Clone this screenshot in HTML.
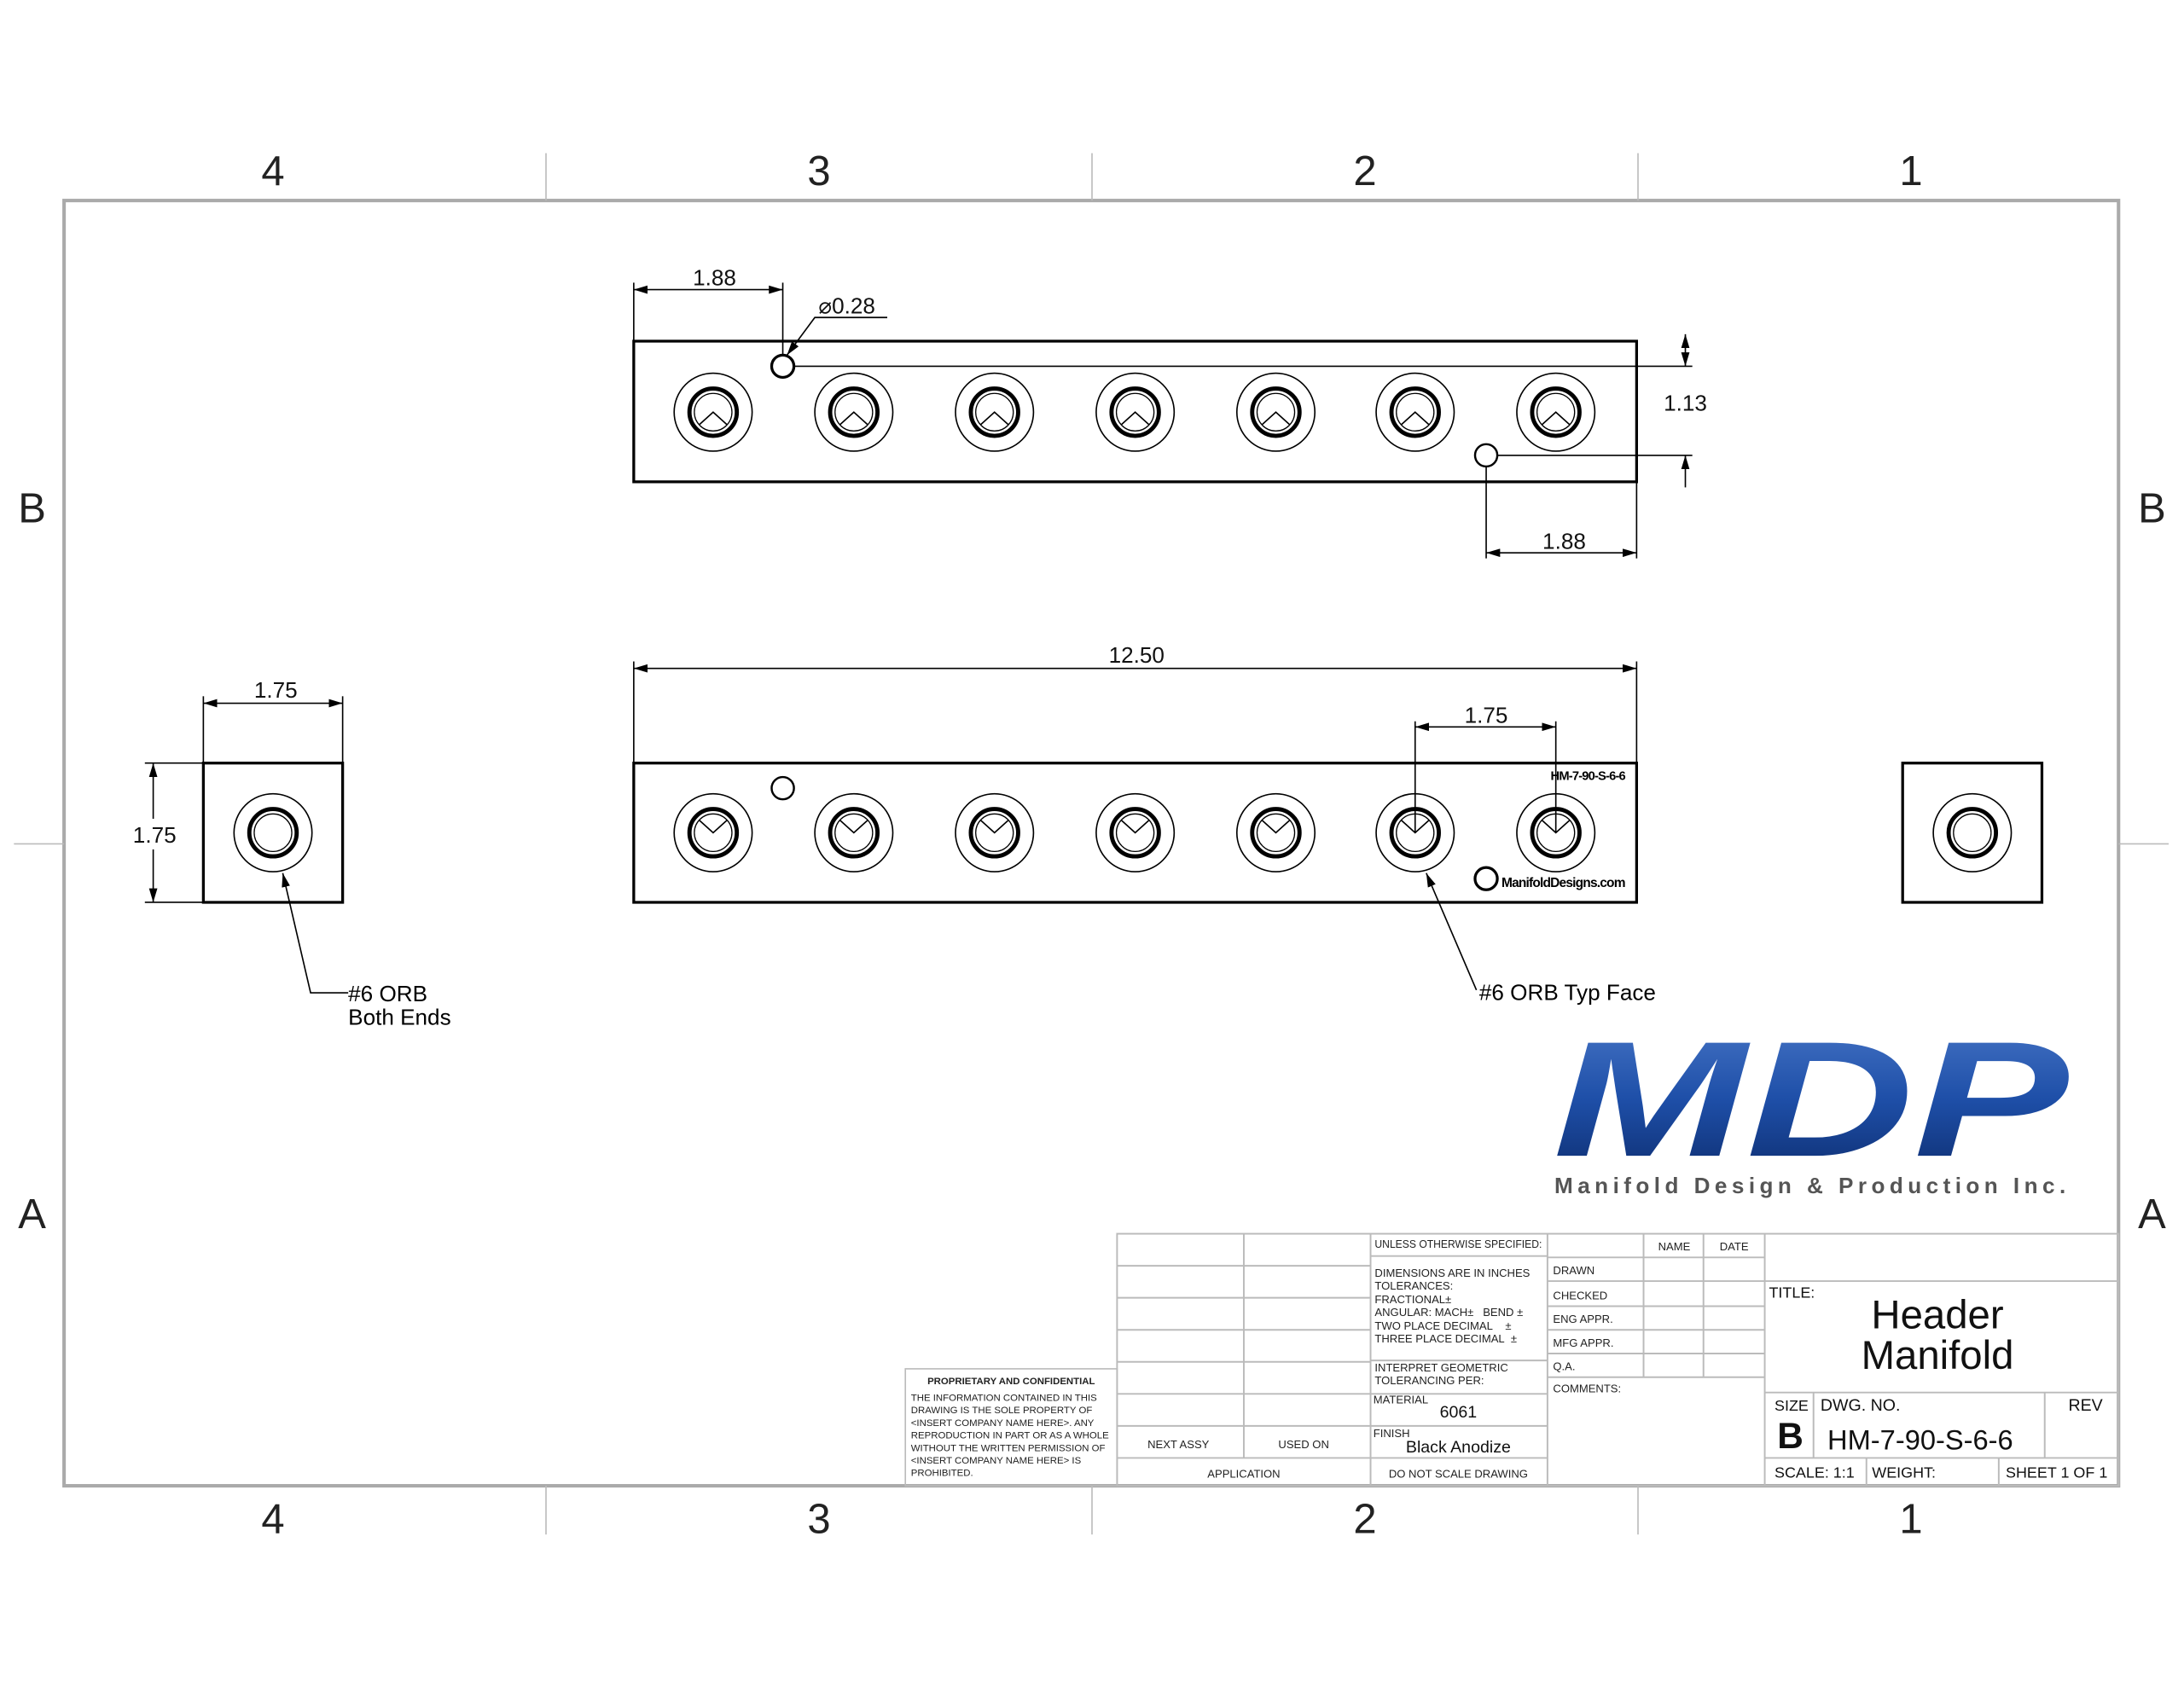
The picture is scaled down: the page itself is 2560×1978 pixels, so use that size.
<!DOCTYPE html>
<html><head><meta charset="utf-8"><style>html,body{margin:0;padding:0;background:#fff}svg{display:block}</style></head><body>
<svg width="2560" height="1978" viewBox="0 0 1568 1211.5" preserveAspectRatio="none" xmlns="http://www.w3.org/2000/svg" font-family="Liberation Sans, sans-serif">
<defs>
<linearGradient id="g" x1="0" y1="0" x2="0" y2="1"><stop offset="0" stop-color="#4a78c8"/><stop offset="0.5" stop-color="#1e4fa8"/><stop offset="1" stop-color="#0c2a6a"/></linearGradient>
<marker id="a" viewBox="0 0 10 6" refX="10" refY="3" markerWidth="10" markerHeight="6" orient="auto-start-reverse" markerUnits="userSpaceOnUse"><path d="M0,0L10,3L0,6z" fill="#000"/></marker>
<g id="hu"><circle r="28" fill="none" stroke="#000" stroke-width="1"/><circle r="17" fill="none" stroke="#000" stroke-width="3"/><circle r="13.5" fill="none" stroke="#000" stroke-width="0.8"/><path d="M-10,9L0,0L10,9" fill="none" stroke="#000" stroke-width="1"/></g>
<g id="hd"><circle r="28" fill="none" stroke="#000" stroke-width="1"/><circle r="17" fill="none" stroke="#000" stroke-width="3"/><circle r="13.5" fill="none" stroke="#000" stroke-width="0.8"/><path d="M-10,-9L0,0L10,-9" fill="none" stroke="#000" stroke-width="1"/></g>
<g id="he"><circle r="28" fill="none" stroke="#000" stroke-width="1"/><circle r="17" fill="none" stroke="#000" stroke-width="3"/><circle r="13.5" fill="none" stroke="#000" stroke-width="0.8"/></g>
</defs>
<rect x="46" y="144" width="1475" height="923" fill="none" stroke="#aaa" stroke-width="2.5"/>
<g stroke="#bbb" stroke-width="1">
<line x1="392" y1="110" x2="392" y2="144"/><line x1="784" y1="110" x2="784" y2="144"/><line x1="1176" y1="110" x2="1176" y2="144"/>
<line x1="392" y1="1067" x2="392" y2="1102"/><line x1="784" y1="1067" x2="784" y2="1102"/><line x1="1176" y1="1067" x2="1176" y2="1102"/>
<line x1="10" y1="606" x2="46" y2="606"/><line x1="1521" y1="606" x2="1557" y2="606"/>
</g>
<g font-size="30" text-anchor="middle" fill="#222">
<text x="196" y="133">4</text><text x="588" y="133">3</text><text x="980" y="133">2</text><text x="1372" y="133">1</text>
<text x="196" y="1101">4</text><text x="588" y="1101">3</text><text x="980" y="1101">2</text><text x="1372" y="1101">1</text>
<text x="23" y="375">B</text><text x="1545" y="375">B</text><text x="23" y="882">A</text><text x="1545" y="882">A</text>
</g>
<rect x="455" y="245" width="720" height="101" fill="none" stroke="#000" stroke-width="2"/>
<g><use href="#hu" x="512" y="296"/><use href="#hu" x="613" y="296"/><use href="#hu" x="714" y="296"/><use href="#hu" x="815" y="296"/><use href="#hu" x="916" y="296"/><use href="#hu" x="1016" y="296"/><use href="#hu" x="1117" y="296"/></g>
<circle cx="562" cy="263" r="8" fill="none" stroke="#000" stroke-width="2"/>
<circle cx="1067" cy="327" r="8" fill="none" stroke="#000" stroke-width="1.5"/>
<g stroke="#000" stroke-width="1" fill="none">
<line x1="455" y1="245" x2="455" y2="203"/><line x1="562" y1="255" x2="562" y2="203"/>
<line x1="455" y1="208" x2="562" y2="208" marker-start="url(#a)" marker-end="url(#a)"/>
<polyline points="637,228 585,228 565,255" marker-end="url(#a)"/>
<line x1="570" y1="263" x2="1215" y2="263"/><line x1="1075" y1="327" x2="1215" y2="327"/>
<line x1="1210" y1="240" x2="1210" y2="263" marker-start="url(#a)" marker-end="url(#a)"/>
<line x1="1210" y1="350" x2="1210" y2="327" marker-end="url(#a)"/>
<line x1="1067" y1="335" x2="1067" y2="401"/><line x1="1175" y1="346" x2="1175" y2="401"/>
<line x1="1067" y1="397" x2="1175" y2="397" marker-start="url(#a)" marker-end="url(#a)"/>
</g>
<rect x="95" y="589" width="32" height="20" fill="#fff"/>
<g font-size="16" fill="#111" text-anchor="middle">
<text x="513" y="205">1.88</text><text x="608" y="225">⌀0.28</text><text x="1210" y="295">1.13</text><text x="1123" y="394">1.88</text>
<text x="816" y="476">12.50</text><text x="1067" y="519">1.75</text><text x="198" y="501">1.75</text><text x="111" y="605">1.75</text>
</g>
<rect x="455" y="548" width="720" height="100" fill="none" stroke="#000" stroke-width="2"/>
<g><use href="#hd" x="512" y="598"/><use href="#hd" x="613" y="598"/><use href="#hd" x="714" y="598"/><use href="#hd" x="815" y="598"/><use href="#hd" x="916" y="598"/><use href="#hd" x="1016" y="598"/><use href="#hd" x="1117" y="598"/></g>
<circle cx="562" cy="566" r="8" fill="none" stroke="#000" stroke-width="1.5"/>
<circle cx="1067" cy="631" r="8" fill="none" stroke="#000" stroke-width="2"/>
<text x="1140" y="560" font-size="9" font-weight="bold" text-anchor="middle" letter-spacing="-0.5">HM-7-90-S-6-6</text>
<text x="1078" y="637" font-size="9.5" font-weight="bold" letter-spacing="-0.5">ManifoldDesigns.com</text>
<g stroke="#000" stroke-width="1" fill="none">
<line x1="455" y1="548" x2="455" y2="475"/><line x1="1175" y1="548" x2="1175" y2="475"/>
<line x1="455" y1="480" x2="1175" y2="480" marker-start="url(#a)" marker-end="url(#a)"/>
<line x1="1016" y1="598" x2="1016" y2="518"/><line x1="1117" y1="598" x2="1117" y2="518"/>
<line x1="1016" y1="522" x2="1117" y2="522" marker-start="url(#a)" marker-end="url(#a)"/>
<line x1="1060" y1="711" x2="1024" y2="627" marker-end="url(#a)"/>
</g>
<text x="1062" y="718" font-size="16">#6 ORB Typ Face</text>
<rect x="146" y="548" width="100" height="100" fill="none" stroke="#000" stroke-width="2"/>
<use href="#he" x="196" y="598"/>
<g stroke="#000" stroke-width="1" fill="none">
<line x1="146" y1="548" x2="146" y2="500"/><line x1="246" y1="548" x2="246" y2="500"/>
<line x1="146" y1="505" x2="246" y2="505" marker-start="url(#a)" marker-end="url(#a)"/>
<line x1="146" y1="548" x2="104" y2="548"/><line x1="146" y1="648" x2="104" y2="648"/>
<line x1="110" y1="548" x2="110" y2="588" marker-start="url(#a)"/>
<line x1="110" y1="610" x2="110" y2="648" marker-end="url(#a)"/>
<polyline points="250,713 223,713 203,627" marker-end="url(#a)"/>
</g>
<text x="250" y="719" font-size="16">#6 ORB</text><text x="250" y="736" font-size="16">Both Ends</text>
<rect x="1366" y="548" width="100" height="100" fill="none" stroke="#000" stroke-width="2"/>
<use href="#he" x="1416" y="598"/>
<text x="1115" y="830" font-size="118" font-weight="bold" font-style="italic" fill="url(#g)" textLength="370" lengthAdjust="spacingAndGlyphs">MDP</text>
<text x="1116" y="857" font-size="16" font-weight="bold" fill="#555" textLength="367" lengthAdjust="spacing">Manifold Design &amp; Production Inc.</text>
<rect x="650" y="983" width="152" height="84" fill="none" stroke="#bbb"/>
<g font-size="7" fill="#222">
<text x="726" y="994" text-anchor="middle" font-weight="bold">PROPRIETARY AND CONFIDENTIAL</text>
<text x="654" y="1006">THE INFORMATION CONTAINED IN THIS</text>
<text x="654" y="1015">DRAWING IS THE SOLE PROPERTY OF</text>
<text x="654" y="1024">&lt;INSERT COMPANY NAME HERE&gt;. ANY</text>
<text x="654" y="1033">REPRODUCTION IN PART OR AS A WHOLE</text>
<text x="654" y="1042">WITHOUT THE WRITTEN PERMISSION OF</text>
<text x="654" y="1051">&lt;INSERT COMPANY NAME HERE&gt; IS</text>
<text x="654" y="1060">PROHIBITED.</text>
</g>
<g stroke="#bbb" stroke-width="1.2" fill="none">
<rect x="802" y="886" width="719" height="181"/>
<line x1="893" y1="886" x2="893" y2="1047"/><line x1="984" y1="886" x2="984" y2="1067"/><line x1="1111" y1="886" x2="1111" y2="1067"/>
<line x1="802" y1="909" x2="984" y2="909"/><line x1="802" y1="932" x2="984" y2="932"/><line x1="802" y1="955" x2="984" y2="955"/><line x1="802" y1="978" x2="984" y2="978"/><line x1="802" y1="1001" x2="984" y2="1001"/><line x1="802" y1="1024" x2="984" y2="1024"/><line x1="802" y1="1047" x2="1111" y2="1047"/>
<line x1="984" y1="902" x2="1111" y2="902"/><line x1="984" y1="977" x2="1111" y2="977"/><line x1="984" y1="1001" x2="1111" y2="1001"/><line x1="984" y1="1024" x2="1111" y2="1024"/>
<line x1="1180" y1="886" x2="1180" y2="989"/><line x1="1223" y1="886" x2="1223" y2="989"/><line x1="1267" y1="886" x2="1267" y2="1067"/>
<line x1="1111" y1="903" x2="1267" y2="903"/><line x1="1111" y1="920" x2="1267" y2="920"/><line x1="1111" y1="938" x2="1267" y2="938"/><line x1="1111" y1="955" x2="1267" y2="955"/><line x1="1111" y1="972" x2="1267" y2="972"/><line x1="1111" y1="989" x2="1267" y2="989"/>
<line x1="1267" y1="920" x2="1521" y2="920"/><line x1="1267" y1="1000" x2="1521" y2="1000"/><line x1="1267" y1="1047" x2="1521" y2="1047"/>
<line x1="1302" y1="1000" x2="1302" y2="1047"/><line x1="1468" y1="1000" x2="1468" y2="1047"/><line x1="1340" y1="1047" x2="1340" y2="1067"/><line x1="1435" y1="1047" x2="1435" y2="1067"/>
</g>
<g font-size="8" fill="#222">
<text x="987" y="896" textLength="120" lengthAdjust="spacingAndGlyphs">UNLESS OTHERWISE SPECIFIED:</text>
<text x="987" y="917">DIMENSIONS ARE IN INCHES</text>
<text x="987" y="926">TOLERANCES:</text>
<text x="987" y="936">FRACTIONAL±</text>
<text x="987" y="945">ANGULAR: MACH±&#160;&#160;&#160;BEND ±</text>
<text x="987" y="955">TWO PLACE DECIMAL&#160;&#160;&#160;&#160;±</text>
<text x="987" y="964">THREE PLACE DECIMAL&#160;&#160;±</text>
<text x="987" y="985">INTERPRET GEOMETRIC</text>
<text x="987" y="994">TOLERANCING PER:</text>
<text x="986" y="1008">MATERIAL</text>
<text x="986" y="1032">FINISH</text>
<text x="846" y="1040" text-anchor="middle">NEXT ASSY</text>
<text x="936" y="1040" text-anchor="middle">USED ON</text>
<text x="893" y="1061" text-anchor="middle">APPLICATION</text>
<text x="1047" y="1061" text-anchor="middle">DO NOT SCALE DRAWING</text>
<text x="1202" y="898" text-anchor="middle">NAME</text><text x="1245" y="898" text-anchor="middle">DATE</text>
<text x="1115" y="915">DRAWN</text><text x="1115" y="933">CHECKED</text><text x="1115" y="950">ENG APPR.</text><text x="1115" y="967">MFG APPR.</text><text x="1115" y="984">Q.A.</text><text x="1115" y="1000">COMMENTS:</text>
</g>
<g fill="#111">
<text x="1047" y="1018" font-size="12" text-anchor="middle">6061</text>
<text x="1047" y="1043" font-size="12" text-anchor="middle">Black Anodize</text>
<text x="1270" y="932" font-size="11">TITLE:</text>
<text x="1391" y="954" font-size="29" text-anchor="middle">Header</text>
<text x="1391" y="983" font-size="29" text-anchor="middle">Manifold</text>
<text x="1274" y="1013" font-size="11">SIZE</text><text x="1307" y="1013" font-size="12">DWG.  NO.</text><text x="1485" y="1013" font-size="12">REV</text>
<text x="1276" y="1040" font-size="26" font-weight="bold">B</text>
<text x="1312" y="1041" font-size="20">HM-7-90-S-6-6</text>
<text x="1274" y="1061" font-size="11">SCALE: 1:1</text><text x="1344" y="1061" font-size="11">WEIGHT:</text><text x="1440" y="1061" font-size="11">SHEET 1 OF 1</text>
</g>
</svg>
</body></html>
